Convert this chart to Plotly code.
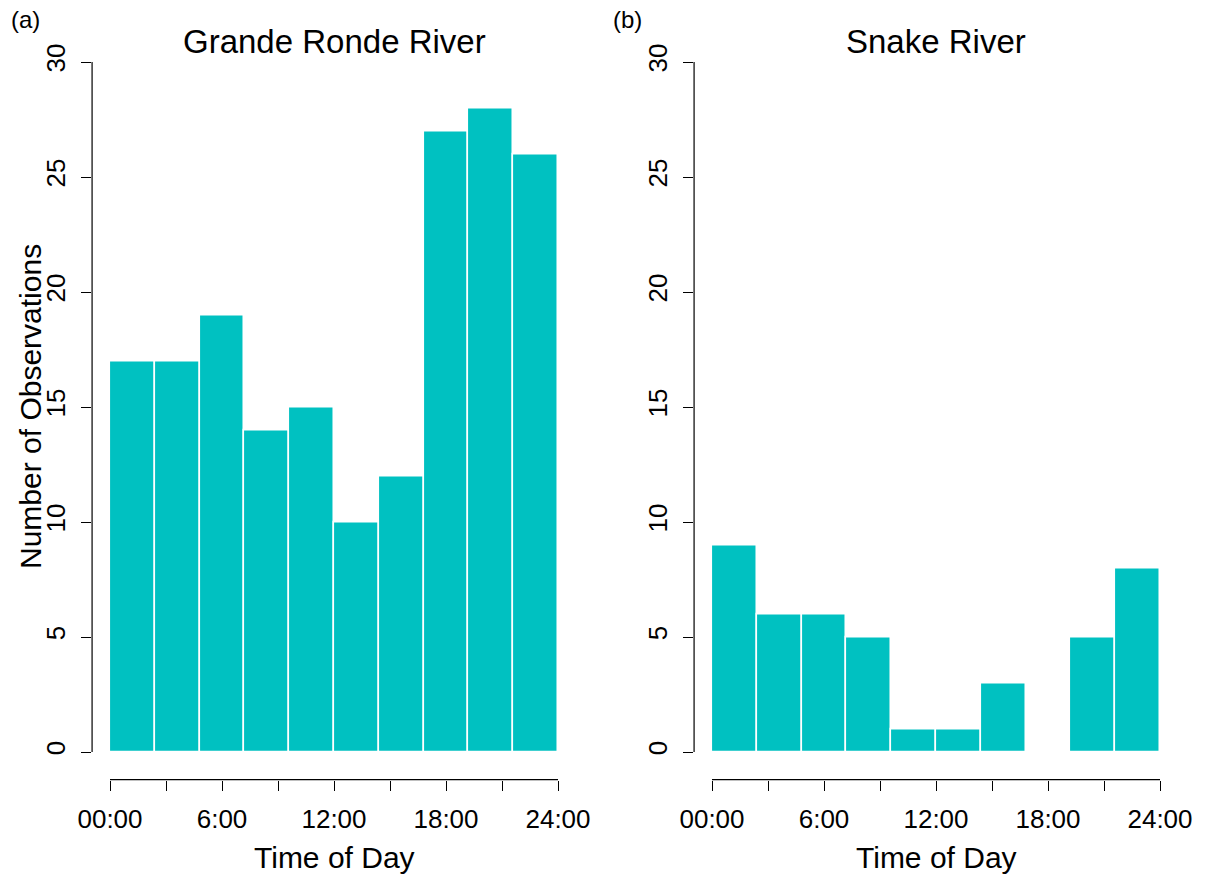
import plotly.graph_objects as go

# ---- data ----
bin_centers = [1.2, 3.6, 6.0, 8.4, 10.8, 13.2, 15.6, 18.0, 20.4, 22.8]
bin_width = 2.4
grande_ronde = [17, 17, 19, 14, 15, 10, 12, 27, 28, 26]
snake = [9, 6, 6, 5, 1, 1, 3, 0, 5, 8]
x_tickvals = [0, 3, 6, 9, 12, 15, 18, 21, 24]
x_ticktext = ["00:00", "", "6:00", "", "12:00", "", "18:00", "", "24:00"]
y_tickvals = [0, 5, 10, 15, 20, 25, 30]
panel_titles = ["Grande Ronde River", "Snake River"]
panel_tags = ["(a)", "(b)"]

W, H = 1212, 877
BAR_COLOR = "rgb(0,193,193)"
FONT = "Liberation Sans, Arial, sans-serif"

# pixel geometry
x0_px = [110, 712]          # pixel of x = 0 per panel
px_per_h = 448 / 24.0
y0_px, y30_px = 752, 62
px_per_n = (y0_px - y30_px) / 30.0
xr = [-0.96, 24.96]
yr = [-1.2, 31.2]

fig = go.Figure()
for i, counts in enumerate([grande_ronde, snake]):
    xa = "x" if i == 0 else "x2"
    ya = "y" if i == 0 else "y2"
    fig.add_trace(go.Bar(
        x=bin_centers, y=counts, width=bin_width,
        marker=dict(color=BAR_COLOR, line=dict(color="white", width=1.6)),
        xaxis=xa, yaxis=ya, showlegend=False, hoverinfo="x+y"))

layout = dict(
    width=W, height=H, margin=dict(l=0, r=0, t=0, b=0, pad=0, autoexpand=False),
    paper_bgcolor="white", plot_bgcolor="white",
    font=dict(family=FONT, color="black"),
    bargap=0,
)

annotations = []
shapes = []
for i in range(2):
    sfx = "" if i == 0 else "2"
    left = x0_px[i] + xr[0] * px_per_h
    right = x0_px[i] + xr[1] * px_per_h
    top = y0_px - yr[1] * px_per_n
    bottom = y0_px - yr[0] * px_per_n
    layout["xaxis" + sfx] = dict(
        domain=[left / W, right / W], range=xr, anchor="y" + sfx,
        tickvals=x_tickvals, ticktext=x_ticktext, ticks="outside",
        ticklen=10, tickwidth=1.2, tickcolor="black", showline=False,
        showgrid=False, zeroline=False, tickfont=dict(size=26, family=FONT),
        ticklabelstandoff=6, automargin=False, fixedrange=True)
    layout["yaxis" + sfx] = dict(
        domain=[1 - bottom / H, 1 - top / H], range=yr, anchor="x" + sfx,
        tickvals=y_tickvals, ticks="outside", ticklen=10, tickwidth=1.2,
        tickcolor="black", showline=False, showgrid=False, zeroline=False,
        tickangle=-90, tickfont=dict(size=26, family=FONT),
        ticklabelstandoff=6, automargin=False, fixedrange=True)
    xref = "x" + sfx
    yref = "y" + sfx
    # R-style axis lines spanning only the tick range
    shapes.append(dict(type="line", xref=xref + " domain", yref=yref,
                       x0=0, x1=0, y0=y_tickvals[0], y1=y_tickvals[-1],
                       line=dict(color="black", width=1.2)))
    shapes.append(dict(type="line", xref=xref, yref=yref + " domain",
                       x0=x_tickvals[0], x1=x_tickvals[-1], y0=0, y1=0,
                       line=dict(color="black", width=1.2)))
    cx = (x0_px[i] + 224) / W
    annotations.append(dict(text=panel_titles[i], x=cx, y=1 - 42 / H,
                            xref="paper", yref="paper", showarrow=False,
                            xanchor="center", yanchor="middle",
                            font=dict(size=33, family=FONT)))
    annotations.append(dict(text="Time of Day", x=cx, y=1 - 857 / H,
                            xref="paper", yref="paper", showarrow=False,
                            xanchor="center", yanchor="middle",
                            font=dict(size=30, family=FONT)))
    annotations.append(dict(text=panel_tags[i], x=(25 + 602 * i) / W,
                            y=1 - 20 / H, xref="paper", yref="paper",
                            showarrow=False, xanchor="center", yanchor="middle",
                            font=dict(size=24, family=FONT)))

annotations.append(dict(text="Number of Observations", x=30 / W,
                        y=1 - 407 / H, xref="paper", yref="paper",
                        showarrow=False, textangle=-90, xanchor="center",
                        yanchor="middle", font=dict(size=30, family=FONT)))

layout["annotations"] = annotations
layout["shapes"] = shapes
fig.update_layout(**layout)
fig.write_html("out.html")
